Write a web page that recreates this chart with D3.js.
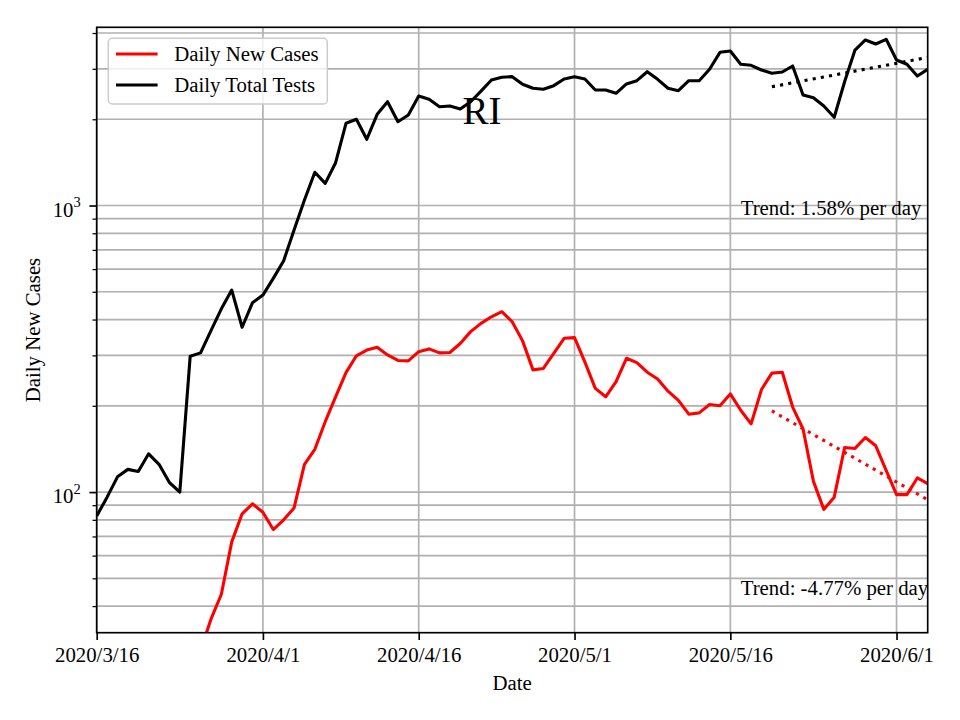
<!DOCTYPE html>
<html>
<head>
<meta charset="utf-8">
<script src="https://cdn.jsdelivr.net/npm/d3@7"></script>
<style>
  html, body { margin: 0; padding: 0; background: #fff; }
  svg { display: block; font-family: "Liberation Serif", "Times New Roman", serif; }
</style>
</head>
<body>
<svg id="chart" width="960" height="720"></svg>
<script>
// ---------- data ----------
const firstTestDate = "2020-03-16";
const testValues = [82.5, 96, 113, 120, 118, 136, 125, 108, 100, 298,
  306, 366, 436, 507, 376, 458, 487, 557, 642, 821,
  1045, 1306, 1195, 1411, 1936, 2000, 1703, 2081, 2303, 1961,
  2070, 2412, 2348, 2213, 2225, 2172, 2303, 2509, 2742, 2803,
  2817, 2649, 2566, 2545, 2620, 2764, 2817, 2764, 2530, 2530,
  2464, 2656, 2727, 2931, 2757, 2566, 2516, 2727, 2727, 2988,
  3425, 3462, 3111, 3086, 2971, 2893, 2924, 3069, 2431, 2379,
  2225, 2032, 2705, 3489, 3782, 3662, 3803, 3220, 3111, 2831, 2988];

const firstCaseDate = "2020-03-26";
const caseValues = [28, 36, 44, 67, 84, 91, 85, 74, 80, 88,
  125, 141, 176, 215, 261, 299, 313, 320, 301, 288,
  287, 309, 316, 306, 307, 330, 363, 388, 409, 426,
  393, 337, 267, 270, 305, 344, 346, 284, 230, 215,
  243, 293, 283, 262, 248, 225, 209, 187, 189, 202,
  200, 220, 193, 173, 228, 260, 262, 198, 166, 109,
  87, 96, 143, 142, 155, 145, 119, 98, 98, 112, 107];

const testTrendDates = ["2020-05-20", "2020-06-04"];
const testTrendValues = [2598, 3287];
const caseTrendDates = ["2020-05-20", "2020-06-04"];
const caseTrendValues = [192, 94];

const xDomain = ["2020-03-16", "2020-06-04"];
const yDomain = [32.3, 4188];
const xTickDates = ["2020-03-16", "2020-04-01", "2020-04-16", "2020-05-01", "2020-05-16", "2020-06-01"];
const yMajorTicks = [100, 1000];
const yMinorTicks = [40, 50, 60, 70, 80, 90, 200, 300, 400, 500, 600, 700, 800, 900, 2000, 3000, 4000];

const titleText = "RI";
const legendLabels = ["Daily New Cases", "Daily Total Tests"];
const seriesColors = ["#ff0000", "#000000"];
const testTrendLabel = "Trend: 1.58% per day";
const caseTrendLabel = "Trend: -4.77% per day";
const trendLabelDate = "2020-05-17";
const xLabel = "Date";
const yLabel = "Daily New Cases";

// ---------- helpers ----------
const parse = d3.timeParse("%Y-%m-%d");
const fmtTick = d => `${d.getFullYear()}/${d.getMonth() + 1}/${d.getDate()}`;

const pL = 96.7, pR = 927.7, pT = 27.3, pB = 632.7;
const FS = 20.8;

const x = d3.scaleTime().domain(xDomain.map(parse)).range([pL, pR]);
const y = d3.scaleLog().domain(yDomain).range([pB, pT]);

const svg = d3.select("#chart");
svg.append("rect").attr("width", 960).attr("height", 720).attr("fill", "#fff");

svg.append("defs").append("clipPath").attr("id", "plotclip")
  .append("rect").attr("x", pL).attr("y", pT).attr("width", pR - pL).attr("height", pB - pT);

// grid
const grid = svg.append("g");
grid.selectAll("line.h").data(yMajorTicks.concat(yMinorTicks)).join("line")
  .attr("x1", pL).attr("x2", pR)
  .attr("y1", d => y(d)).attr("y2", d => y(d))
  .attr("stroke", "#b0b0b0").attr("stroke-width", 1.67);
grid.selectAll("line.v").data(xTickDates.map(parse)).join("line")
  .attr("x1", d => x(d)).attr("x2", d => x(d))
  .attr("y1", pT).attr("y2", pB)
  .attr("stroke", "#b0b0b0").attr("stroke-width", 1.67);

// series
const testsData = testValues.map((v, i) => ({ date: d3.timeDay.offset(parse(firstTestDate), i), v }));
const casesData = caseValues.map((v, i) => ({ date: d3.timeDay.offset(parse(firstCaseDate), i), v }));
const line = d3.line().x(d => x(d.date)).y(d => y(d.v));

const plot = svg.append("g").attr("clip-path", "url(#plotclip)");
plot.append("path").datum(casesData).attr("d", line)
  .attr("fill", "none").attr("stroke", seriesColors[0]).attr("stroke-width", 3.1)
  .attr("stroke-linejoin", "round");
plot.append("path").datum(testsData).attr("d", line)
  .attr("fill", "none").attr("stroke", seriesColors[1]).attr("stroke-width", 3.1)
  .attr("stroke-linejoin", "round");

const testTrend = testTrendDates.map((d, i) => ({ date: parse(d), v: testTrendValues[i] }));
const caseTrend = caseTrendDates.map((d, i) => ({ date: parse(d), v: caseTrendValues[i] }));
plot.append("path").datum(testTrend).attr("d", line)
  .attr("fill", "none").attr("stroke", seriesColors[1]).attr("stroke-width", 3.1)
  .attr("stroke-dasharray", "3.1,5.2");
plot.append("path").datum(caseTrend).attr("d", line)
  .attr("fill", "none").attr("stroke", seriesColors[0]).attr("stroke-width", 3.1)
  .attr("stroke-dasharray", "3.1,5.2");

// axes
const xAxis = d3.axisBottom(x).tickValues(xTickDates.map(parse)).tickFormat(fmtTick)
  .tickSizeInner(7.3).tickSizeOuter(0).tickPadding(7.3);
const gx = svg.append("g").attr("transform", `translate(0,${pB})`).call(xAxis);
gx.select(".domain").remove();
gx.selectAll(".tick line").attr("stroke", "#000").attr("stroke-width", 1.67);
gx.selectAll(".tick text").attr("font-size", FS).attr("font-family", "Liberation Serif")
  .attr("fill", "#000").attr("y", 29).attr("dy", 0);

const yAxisMinor = d3.axisLeft(y).tickValues(yMinorTicks).tickFormat("").tickSizeInner(4.2).tickSizeOuter(0);
const gyMinor = svg.append("g").attr("transform", `translate(${pL},0)`).call(yAxisMinor);
gyMinor.select(".domain").remove();
gyMinor.selectAll(".tick line").attr("stroke", "#000").attr("stroke-width", 1.25);

const yAxis = d3.axisLeft(y).tickValues(yMajorTicks).tickFormat("").tickSizeInner(7.3).tickSizeOuter(0);
const gy = svg.append("g").attr("transform", `translate(${pL},0)`).call(yAxis);
gy.select(".domain").remove();
gy.selectAll(".tick line").attr("stroke", "#000").attr("stroke-width", 1.67);
gy.selectAll(".tick text").each(function (d) {
  const t = d3.select(this);
  t.text(null).attr("x", -16).attr("y", 10.5).attr("dy", 0)
    .attr("font-size", FS).attr("font-family", "Liberation Serif").attr("fill", "#000")
    .attr("text-anchor", "end");
  t.append("tspan").text("10");
  t.append("tspan").attr("dy", -9.5).attr("font-size", 14.5).text(Math.round(Math.log10(d)));
});

// frame
svg.append("rect").attr("x", pL).attr("y", pT).attr("width", pR - pL).attr("height", pB - pT)
  .attr("fill", "none").attr("stroke", "#000").attr("stroke-width", 1.67);

// labels
svg.append("text").attr("x", (pL + pR) / 2).attr("y", 690).attr("text-anchor", "middle")
  .attr("font-size", FS).text(xLabel);
svg.append("text").attr("transform", `translate(40,${(pT + pB) / 2}) rotate(-90)`)
  .attr("text-anchor", "middle").attr("font-size", FS).text(yLabel);

svg.append("text").attr("x", 482).attr("y", 124.3).attr("text-anchor", "middle")
  .attr("font-size", 39).text(titleText);

svg.append("text").attr("x", x(parse(trendLabelDate))).attr("y", 215).attr("font-size", FS).text(testTrendLabel);
svg.append("text").attr("x", x(parse(trendLabelDate))).attr("y", 595).attr("font-size", FS).text(caseTrendLabel);

// legend
const lg = svg.append("g");
lg.append("rect").attr("x", 108.3).attr("y", 38.3).attr("width", 219).attr("height", 65.7)
  .attr("rx", 4).attr("fill", "#fff").attr("fill-opacity", 0.8)
  .attr("stroke", "#cccccc").attr("stroke-width", 1.5);
legendLabels.forEach((lab, i) => {
  const yy = 54 + i * 31;
  lg.append("line").attr("x1", 116).attr("x2", 157.6).attr("y1", yy).attr("y2", yy)
    .attr("stroke", seriesColors[i]).attr("stroke-width", 3.1);
  lg.append("text").attr("x", 174.3).attr("y", yy + 7.3).attr("font-size", FS).text(lab);
});
</script>
</body>
</html>
